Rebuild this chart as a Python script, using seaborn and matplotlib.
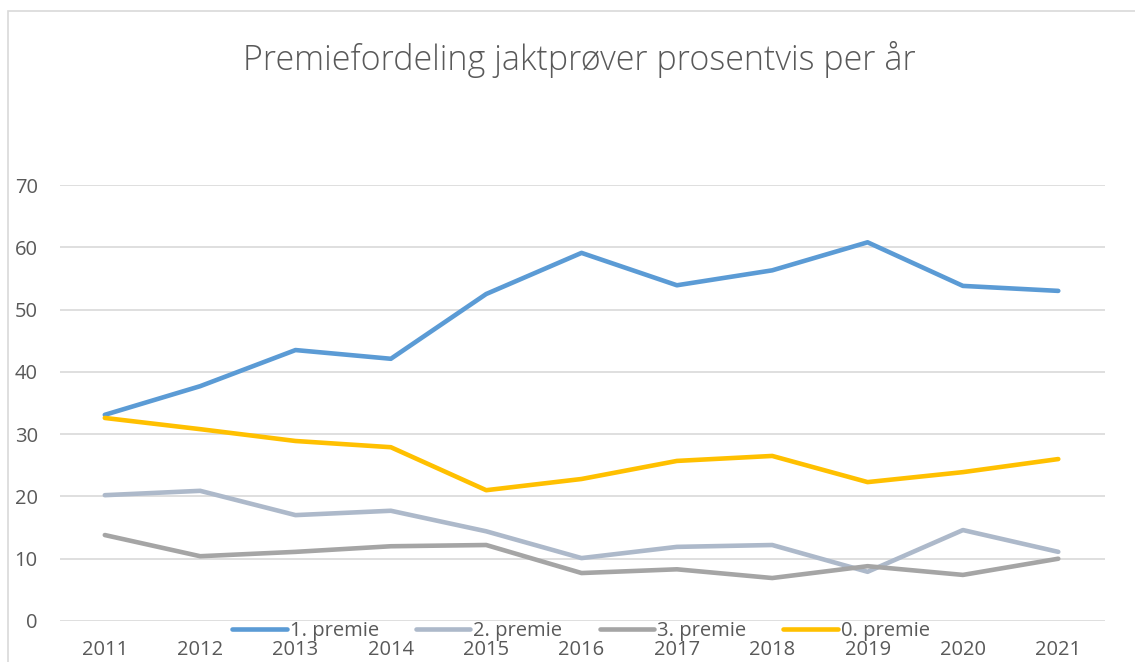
import pandas as pd
import matplotlib.pyplot as plt
import seaborn as sns
from matplotlib.patches import Rectangle

years = [2011, 2012, 2013, 2014, 2015, 2016, 2017, 2018, 2019, 2020, 2021]
premie_1 = [33.1, 37.7, 43.5, 42.1, 52.5, 59.1, 53.9, 56.3, 60.8, 53.8, 53.0]
premie_2 = [20.2, 20.9, 17.0, 17.7, 14.4, 10.1, 11.9, 12.2, 7.9, 14.6, 11.1]
premie_3 = [13.8, 10.4, 11.1, 12.0, 12.2, 7.7, 8.3, 6.9, 8.8, 7.4, 10.0]
premie_0 = [32.6, 30.8, 28.9, 27.9, 21.0, 22.8, 25.7, 26.5, 22.3, 23.9, 26.0]

series = ['1. premie', '2. premie', '3. premie', '0. premie']
colors = ['#5B9BD5', '#ADB9CA', '#A5A5A5', '#FFC000']

df = pd.DataFrame({'år': years, '1. premie': premie_1, '2. premie': premie_2,
                   '3. premie': premie_3, '0. premie': premie_0})
long = df.melt(id_vars='år', var_name='serie', value_name='prosent')

sns.set_style('white')
plt.rcParams['font.family'] = ['Open Sans', 'DejaVu Sans']

fig = plt.figure(figsize=(11.35, 6.62), dpi=100)
ax = fig.add_axes([60 / 1135, 1 - 621 / 662, 1045 / 1135, 436 / 662])

# chart frame like the spreadsheet border
fig.patches.append(Rectangle((8 / 1135, -0.1), 1.2, 1 - 11 / 662 + 0.1, transform=fig.transFigure,
                             fill=False, edgecolor='#D9D9D9', linewidth=1.2))

sns.lineplot(data=long, x='år', y='prosent', hue='serie', hue_order=series,
             palette=colors, linewidth=3.3, ax=ax, legend=False)
for line in ax.lines:
    line.set_solid_capstyle('round')

ax.set_xlim(2010.53, 2021.49)
ax.set_ylim(0, 70)
ax.set_xticks(years)
ax.set_yticks(range(0, 71, 10))
ax.yaxis.grid(True, color='#D9D9D9', linewidth=1.2)
ax.set_axisbelow(True)
for s in ax.spines.values():
    s.set_visible(False)
ax.set_xlabel('')
ax.set_ylabel('')
ax.tick_params(axis='x', length=0, pad=14, labelsize=14.5, labelcolor='#595959')
ax.tick_params(axis='y', length=0, pad=16, labelsize=14.5, labelcolor='#595959')

handles = [plt.Line2D([], [], color=c, linewidth=3.3, solid_capstyle='round') for c in colors]
fig.legend(handles, series, loc='center', bbox_to_anchor=(581 / 1135, 1 - 631 / 662), ncol=4,
           frameon=False, fontsize=14.5, labelcolor='#595959', handlelength=2.7,
           handletextpad=0.15, columnspacing=1.85, borderpad=0)

fig.text(579 / 1135, 1 - 60 / 662, 'Premiefordeling jaktprøver prosentvis per år',
         ha='center', va='center', fontsize=24.5, fontweight='light', color='#595959')

fig.savefig('out.png', dpi=100)
